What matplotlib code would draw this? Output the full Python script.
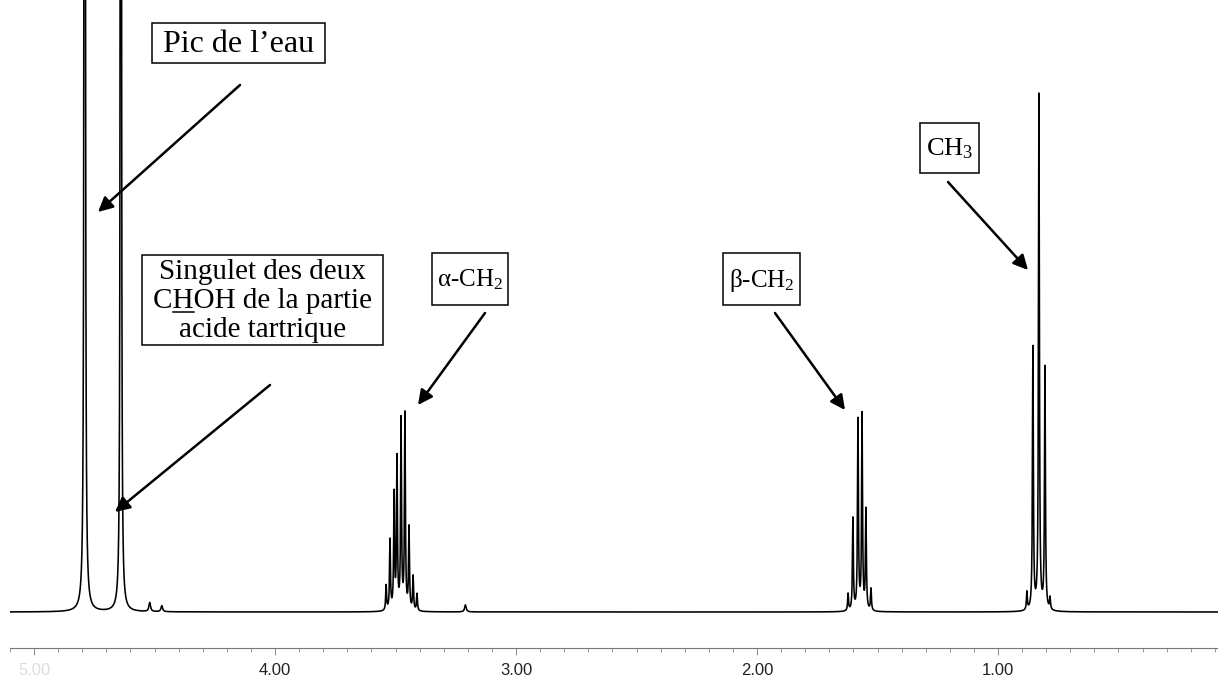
import numpy as np
import matplotlib
matplotlib.use('Agg')
import matplotlib.pyplot as plt
from matplotlib.lines import Line2D
from matplotlib.patches import FancyArrowPatch, Rectangle
from matplotlib.ticker import MultipleLocator, FormatStrFormatter

plt.rcParams['font.family'] = ['Liberation Serif', 'DejaVu Serif']
plt.rcParams['mathtext.fontset'] = 'custom'
plt.rcParams['mathtext.rm'] = 'Liberation Serif'
plt.rcParams['mathtext.it'] = 'Liberation Serif:italic'

# peak lists (ppm, height in arbitrary units)
water_ppm = [4.79, 4.64]
water_h = [90000, 70000]
small_ppm = [4.52, 4.47, 3.21]
small_h = [9, 6, 7]
alpha_ppm = [3.539, 3.523, 3.506, 3.494, 3.477, 3.461, 3.444, 3.427, 3.411]
alpha_h = [25, 70, 115, 150, 189, 195, 82, 34, 17]
beta_ppm = [1.622, 1.602, 1.581, 1.564, 1.548, 1.527]
beta_h = [17, 92, 190, 195, 100, 22]
ch3_ppm = [0.880, 0.855, 0.830, 0.805, 0.784]
ch3_h = [18, 262, 515, 242, 12]

W, H = 1218, 677


def px(x, y):
	# figure fraction from pixel position measured from top-left
	return (x / W, 1 - y / H)


def lorentz(x, x0, h, g):
	return h / (1 + ((x - x0) / g) ** 2)


def spectrum(x):
	y = np.zeros_like(x)
	for p, h in zip(water_ppm, water_h):
		y += lorentz(x, p, h, 0.0003)
	for p, h in zip(small_ppm, small_h):
		y += lorentz(x, p, h, 0.004)
	for plist, hlist in [(alpha_ppm, alpha_h), (beta_ppm, beta_h), (ch3_ppm, ch3_h)]:
		for p, h in zip(plist, hlist):
			y += lorentz(x, p, h, 0.0022)
	return y


fig = plt.figure(figsize=(W / 100, H / 100), dpi=100)
ax = fig.add_axes([10 / W, 29 / H, 1208 / W, 648 / H])

x = np.arange(0.0, 5.2, 0.0001)
ax.plot(x, spectrum(x), color='black', lw=1.15)
ax.set_xlim(5.10, 0.087)
ax.set_ylim(-36, 612)

for s in ['top', 'left', 'right']:
	ax.spines[s].set_visible(False)
ax.spines['bottom'].set_linestyle((0, (1, 1)))
ax.spines['bottom'].set_color('#777777')
ax.spines['bottom'].set_linewidth(0.8)
ax.set_yticks([])
ax.xaxis.set_major_locator(MultipleLocator(1.0))
ax.xaxis.set_minor_locator(MultipleLocator(0.1))
ax.xaxis.set_major_formatter(FormatStrFormatter('%.2f'))
ax.tick_params(axis='x', which='major', length=5, width=0.6, color='#777777', pad=6,
	labelsize=12, labelcolor='#222222')
ax.tick_params(axis='x', which='minor', length=3, width=0.6, color='#888888')
for lab in ax.get_xticklabels():
	lab.set_family(['Liberation Sans', 'DejaVu Sans'])
	if lab.get_text() == '5.00':
		lab.set_color('#dddddd')

arrow = dict(arrowstyle='-|>', lw=1.8, color='black', mutation_scale=22, shrinkA=0, shrinkB=0)

# text, fontsize, box (x0, y0, x1, y1), arrow start, arrow tip (pixels from top-left)
labels = [
	("Pic de l\u2019eau", 23, (152, 23, 325, 63), (240, 85), (98, 212)),
	("Singulet des deux\nCHOH de la partie\nacide tartrique", 21, (142, 255, 383, 345), (270, 385), (115, 512)),
	("\u03b1-CH$_\\mathrm{2}$", 18, (432, 253, 508, 305), (485, 313), (418, 405)),
	("\u03b2-CH$_\\mathrm{2}$", 18, (723, 253, 800, 305), (775, 313), (845, 410)),
	("CH$_\\mathrm{3}$", 19, (920, 123, 979, 173), (948, 182), (1028, 270)),
]
texts = []
for txt, fs, (bx0, by0, bx1, by1), a0, a1 in labels:
	fig.add_artist(Rectangle(px(bx0, by1), (bx1 - bx0) / W, (by1 - by0) / H,
		transform=fig.transFigure, fc='white', ec='black', lw=1.1, zorder=2))
	t = fig.text(*px((bx0 + bx1) / 2, (by0 + by1) / 2 + 1), txt, ha='center', va='center',
		fontsize=fs, linespacing=1.13, zorder=3)
	texts.append(t)
	fig.add_artist(FancyArrowPatch(px(*a0), px(*a1), transform=fig.transFigure, zorder=3, **arrow))

# underline the H of CHOH
fig.canvas.draw()
r = fig.canvas.get_renderer()


def tw(s, fs):
	tmp = fig.text(0, 0, s, fontsize=fs)
	w = tmp.get_window_extent(r).width
	tmp.remove()
	return w


t = texts[1]
bb = t.get_window_extent(r)
cx = bb.x0 + bb.width / 2
left = cx - tw("CHOH de la partie", 21) / 2
x0 = left + tw("C", 21)
x1 = left + tw("CH", 21)
pitch = bb.height / 3
yb = bb.y0 + pitch + 0.22 * pitch - 3
inv = fig.transFigure.inverted()
(fx0, fy), (fx1, _) = inv.transform([(x0, yb), (x1, yb)])
fig.add_artist(Line2D([fx0, fx1], [fy, fy], transform=fig.transFigure, color='black', lw=1.1, zorder=4))

fig.savefig('out.png', dpi=100)
